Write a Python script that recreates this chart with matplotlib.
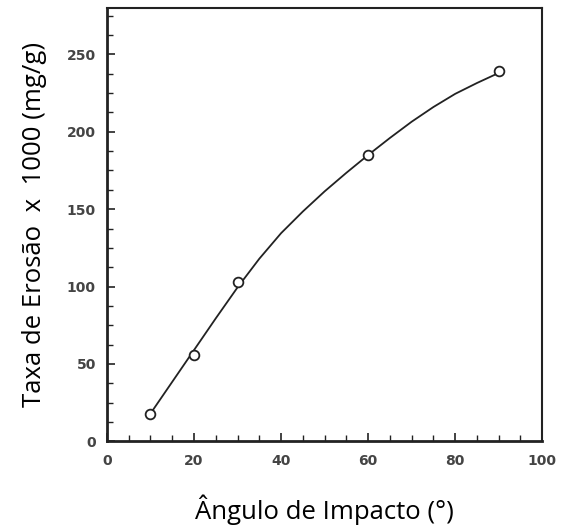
import numpy as np
import matplotlib
matplotlib.use("Agg")
import matplotlib.pyplot as plt
from matplotlib.ticker import MultipleLocator

# measured points
angle = [10, 20, 30, 60, 90]
erosion = [18, 56, 103, 185, 239]

# fitted curve
curve_x = [10, 15, 20, 25, 30, 35, 40, 45, 50, 55, 60, 65, 70, 75, 80, 85, 90]
curve_y = [18, 38.5, 59, 79.5, 99.5, 118, 134.5, 148.5, 161.5, 173.5, 185, 196, 206.5, 216, 224.5, 231.5, 238]

xticks = [0, 20, 40, 60, 80, 100]
yticks = [0, 50, 100, 150, 200, 250]

fig = plt.figure(figsize=(5.72, 5.28), dpi=100)
ax = fig.add_axes([0.187, 0.164, 0.761, 0.821])

ax.plot(curve_x, curve_y, color="#222222", lw=1.3)
ax.plot(angle, erosion, "o", mfc="white", mec="#222222", ms=7, mew=1.3)

ax.set_xlim(0, 100)
ax.set_ylim(0, 280)
ax.set_xticks(xticks)
ax.set_yticks(yticks)
ax.xaxis.set_minor_locator(MultipleLocator(5))
ax.yaxis.set_minor_locator(MultipleLocator(12.5))
ax.tick_params(which="both", direction="in", colors="#222222", labelcolor="#444444",
               labelsize=10)
ax.tick_params(which="major", length=6, width=1.2)
ax.tick_params(which="minor", length=4, width=1.0)
ax.tick_params(axis="x", pad=9)
ax.tick_params(axis="y", pad=8)
for lab in ax.get_xticklabels() + ax.get_yticklabels():
    lab.set_fontweight("bold")
for s in ax.spines.values():
    s.set_linewidth(1.5)
    s.set_color("#222222")
ax.spines["left"].set_linewidth(2)
ax.spines["bottom"].set_linewidth(2)

ax.set_xlabel("Ângulo de Impacto (°)", family="Open Sans", fontsize=18.5, labelpad=19)
ax.set_ylabel("Taxa de Erosão  x  1000 (mg/g)", family="Open Sans", fontsize=18.5, labelpad=14)

fig.savefig("out.png", dpi=100)
